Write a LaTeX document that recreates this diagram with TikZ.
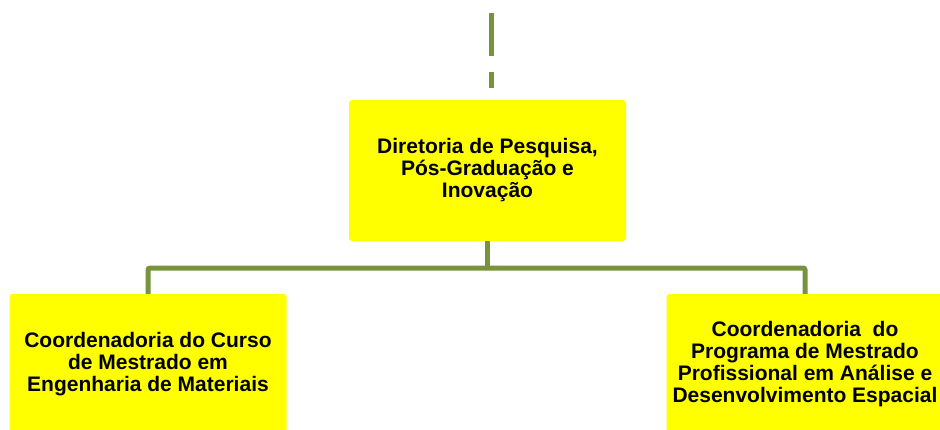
\documentclass[tikz,border=0pt]{standalone}
\usepackage{fontspec}
\setmainfont{Liberation Sans}
\usetikzlibrary{positioning, calc}
\definecolor{OrgYellow}{RGB}{255, 255, 0}
\definecolor{OrgOlive}{RGB}{119, 147, 60}

\begin{document}
\begin{tikzpicture}[
    x=1pt, y=-1pt,
    every node/.style={font=\fontsize{21}{22}\selectfont\bfseries, align=center},
    unit/.style={rectangle, fill=OrgYellow, rounded corners=3pt, inner sep=2pt, minimum width=277pt, minimum height=141pt},
    link/.style={draw=OrgOlive, line width=5pt, rounded corners=2pt}
  ]
    \clip (0,0) rectangle (940,429);

    % Direction
    \node[unit] (dir) at (487.5,170.5) {Diretoria de Pesquisa,\\Pós-Graduação e\\Inovação};
    \coordinate (up) at (491,13);

    % Coordinations
    \node[unit] (cme) at (148,364.5) {Coordenadoria do Curso\\de Mestrado em\\Engenharia de Materiais};
    \node[unit] (cmp) at (805,364.5) {Coordenadoria~ do\\Programa de Mestrado\\Profissional em Análise e\\Desenvolvimento Espacial};
    \coordinate (hub) at (488,268);

    % Connections
    \draw[link, rounded corners=0pt, dash pattern=on 43pt off 16pt on 16pt off 12pt] (up) -- (up |- dir.north);
    \draw[link] (dir.south) -- (dir.south |- hub);
    \draw[link] (cme.north) |- (hub) -| (cmp.north);
\end{tikzpicture}
\end{document}
